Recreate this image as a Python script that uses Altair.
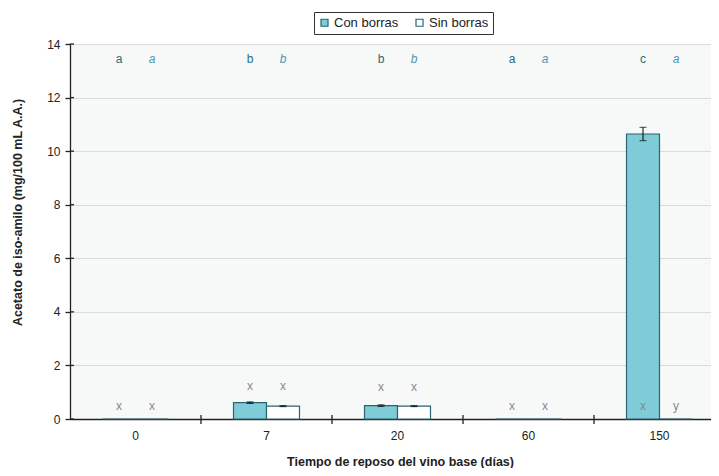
import altair as alt
import pandas as pd

categories = ["0", "7", "20", "60", "150"]
series = ["Con borras", "Sin borras"]
con_vals = [0.0, 0.61, 0.50, 0.0, 10.64]
sin_vals = [0.0, 0.48, 0.48, 0.0, 0.0]
con_err = [0.0, 0.03, 0.03, 0.0, 0.25]
sin_err = [0.0, 0.02, 0.02, 0.0, 0.0]
con_top = ["a", "b", "b", "a", "c"]
sin_top = ["a", "b", "b", "a", "a"]
con_low = ["x", "x", "x", "x", "x"]
sin_low = ["x", "x", "x", "x", "y"]
low_y = [0.47, 1.25, 1.21, 0.47, 0.47]
top_y = 13.43
y_ticks = [0, 2, 4, 6, 8, 10, 12, 14]

rows = []
for i, c in enumerate(categories):
    rows.append(dict(cat=c, series=series[0], val=con_vals[i], err=con_err[i],
                     lo=con_vals[i] - con_err[i], hi=con_vals[i] + con_err[i],
                     top=con_top[i], low=con_low[i], ly=low_y[i], ty=top_y))
    rows.append(dict(cat=c, series=series[1], val=sin_vals[i], err=sin_err[i],
                     lo=sin_vals[i] - sin_err[i], hi=sin_vals[i] + sin_err[i],
                     top=sin_top[i], low=sin_low[i], ly=low_y[i], ty=top_y))
df = pd.DataFrame(rows)

W, H = 641, 375
FONT = "Liberation Sans"
TEAL = "#2a6372"

xscale = alt.Scale(range=[0, 655], paddingInner=0, paddingOuter=0)
xoff = alt.XOffset("series:N", scale=alt.Scale(domain=series, paddingInner=0, paddingOuter=0.985))
yscale = alt.Scale(domain=[0, 14])

x_enc = alt.X("cat:N", sort=categories, scale=xscale,
              axis=alt.Axis(labelAngle=0, ticks=False, labelPadding=11, labelFontSize=12,
                            labelColor="#222", labelFont=FONT,
                            domainColor="#222", domainWidth=1.3,
                            title="Tiempo de reposo del vino base (días)",
                            titleFont=FONT, titleFontSize=12.5, titleFontWeight="bold",
                            titleColor="#222", titleY=42, titleX=330,
                            titleAlign="center", titleBaseline="middle"))

y_enc = alt.Y("val:Q", scale=yscale,
              axis=alt.Axis(values=y_ticks, tickSize=5, tickColor="#222", tickWidth=1.3,
                            labelPadding=5, labelFontSize=12, labelColor="#222", labelFont=FONT,
                            domainColor="#222", domainWidth=1.3,
                            grid=True, gridColor="#d8dcdc", gridWidth=1,
                            title="Acetato de iso-amilo (mg/100 mL A.A.)",
                            titleFont=FONT, titleFontSize=12.5, titleFontWeight="bold",
                            titleColor="#222", titleX=-53, titleY=168,
                            titleAngle=-90, titleAlign="center", titleBaseline="middle"))

base = alt.Chart(df)

bars = base.mark_bar(stroke=TEAL, strokeWidth=1.2).encode(
    x=x_enc, xOffset=xoff, y=y_enc,
    fill=alt.Fill("series:N", scale=alt.Scale(domain=series, range=["#80cbd8", "#ffffff"]),
                  legend=alt.Legend(title=None, orient="none", direction="horizontal",
                                    legendX=244, legendY=-32, symbolType="square",
                                    symbolSize=49, symbolStrokeColor=TEAL, symbolStrokeWidth=1.2,
                                    labelFont=FONT, labelFontSize=13, labelColor="#222",
                                    strokeColor="#333", fillColor="#ffffff",
                                    padding=4, columnPadding=14, labelOffset=3)),
)

err_df = base.transform_filter("datum.err > 0")
err_rule = err_df.mark_rule(color="#000", strokeWidth=1).encode(
    x=alt.X("cat:N", sort=categories, scale=xscale), xOffset=xoff,
    y=alt.Y("lo:Q", scale=yscale), y2="hi:Q")
err_cap_hi = err_df.mark_tick(color="#000", thickness=1, size=7).encode(
    x=alt.X("cat:N", sort=categories, scale=xscale), xOffset=xoff,
    y=alt.Y("hi:Q", scale=yscale))
err_cap_lo = err_df.mark_tick(color="#000", thickness=1, size=7).encode(
    x=alt.X("cat:N", sort=categories, scale=xscale), xOffset=xoff,
    y=alt.Y("lo:Q", scale=yscale))

top_con = base.transform_filter(alt.datum.series == "Con borras").mark_text(
    font=FONT, fontSize=12, color="#2d6a7a", baseline="middle").encode(
    x=alt.X("cat:N", sort=categories, scale=xscale), xOffset=xoff,
    y=alt.Y("ty:Q", scale=yscale), text="top:N")
top_sin = base.transform_filter(alt.datum.series == "Sin borras").mark_text(
    font=FONT, fontSize=12, color="#4f96aa", fontStyle="italic", baseline="middle").encode(
    x=alt.X("cat:N", sort=categories, scale=xscale), xOffset=xoff,
    y=alt.Y("ty:Q", scale=yscale), text="top:N")
low_txt = base.mark_text(font=FONT, fontSize=12, color="#888888", baseline="middle").encode(
    x=alt.X("cat:N", sort=categories, scale=xscale), xOffset=xoff,
    y=alt.Y("ly:Q", scale=yscale), text="low:N")

tick_df = pd.DataFrame({"cat": categories[1:]})
x_ticks = alt.Chart(tick_df).mark_rule(color="#222", strokeWidth=1.3).encode(
    x=alt.X("cat:N", sort=categories, scale=xscale, bandPosition=0),
    y=alt.value(H - 4), y2=alt.value(H + 5))

ytick_df = pd.DataFrame({"v": y_ticks})
y_inner = alt.Chart(ytick_df).mark_rule(color="#222", strokeWidth=1.3).encode(
    y=alt.Y("v:Q", scale=yscale), x=alt.value(0), x2=alt.value(4))

chart = alt.layer(bars, err_rule, err_cap_hi, err_cap_lo, top_con, top_sin, low_txt,
                  x_ticks, y_inner).properties(
    width=W, height=H,
    autosize=alt.AutoSizeParams(type="none"),
    padding={"left": 62, "top": 36, "right": 0, "bottom": 49},
    background="#ffffff",
).configure_view(fill="#f7f9f9", stroke="transparent")

chart.save("out.html", embed_options={"renderer": "svg", "actions": False})
